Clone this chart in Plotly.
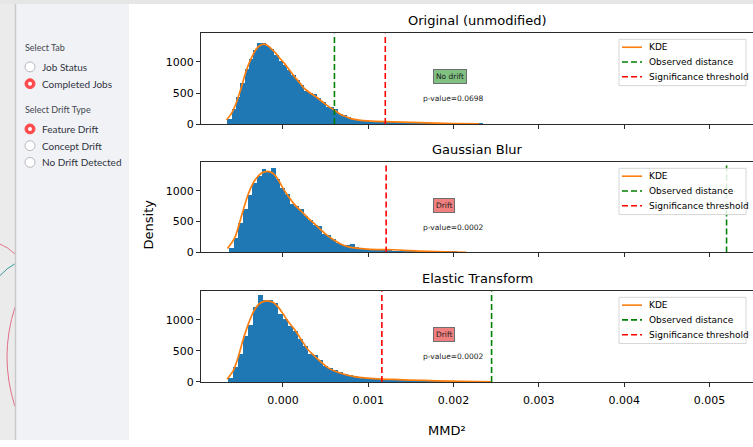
import plotly.graph_objects as go

W, H = 753, 447

# ---------------- data ----------------
titles = ["Original (unmodified)", "Gaussian Blur", "Elastic Transform"]
status = ["No drift", "Drift", "Drift"]
pvalues = ["p-value=0.0698", "p-value=0.0002", "p-value=0.0002"]
legend_labels = ["KDE", "Observed distance", "Significance threshold"]
x_ticks = [0.0, 0.001, 0.002, 0.003, 0.004, 0.005]
x_tick_labels = ["0.000", "0.001", "0.002", "0.003", "0.004", "0.005"]
y_ticks = [0, 500, 1000]
y_tick_labels = ["0", "500", "1000"]

# histogram grids (left edge of first bin, bin width)
hist_start = [-0.00065, -0.00063, -0.000642]
hist_width = [0.00005, 0.0000545, 0.0000584]

orig_counts = [80, 240, 430, 650, 880, 1040, 1180, 1295, 1295, 1250, 1200, 1110, 1010, 950,
               870, 790, 700, 620, 530, 490, 480, 410, 340, 270, 260, 230, 150, 140, 100, 75,
               60, 50, 45, 40, 35, 30, 26, 22, 20, 18, 15, 13, 12, 10, 9, 8, 7, 6, 5, 5,
               4, 4, 3, 3, 2, 2, 2, 1, 1, 1]
blur_counts = [64, 225, 465, 695, 920, 1120, 1240, 1353, 1300, 1365, 1187, 1043, 936, 786,
               749, 695, 588, 519, 444, 428, 294, 278, 214, 150, 118, 118, 123, 80,
               62, 52, 46, 40, 35, 30, 26, 22, 18, 15, 12, 10, 8, 7, 6, 5, 4, 3, 3, 2, 2, 1]
elastic_counts = [53, 230, 444, 728, 910, 1209, 1390, 1310, 1321, 1263, 1086, 1005, 899, 818,
                  685, 578, 444, 428, 353, 257, 214, 187, 150, 123, 107, 86,
                  70, 60, 52, 46, 40, 36, 32, 28, 25, 22, 19, 16, 14, 12, 10, 8, 7, 6, 5,
                  4, 3, 3, 2, 2, 1]

orig_kde_x = [-0.000662, -0.000603, -0.000545, -0.000486, -0.000428, -0.000369, -0.000311,
              -0.000253, -0.000206, -0.000155, -0.000097, -0.000039, 0.00002, 0.000078,
              0.000137, 0.000195, 0.000253, 0.000312, 0.00037, 0.000429, 0.000487, 0.000545,
              0.000604, 0.000662, 0.000721, 0.000779, 0.000838, 0.000916, 0.001033, 0.001188,
              0.0014, 0.0016, 0.0018, 0.002, 0.0023]
orig_kde_y = [64, 171, 348, 599, 867, 1065, 1214, 1279, 1284, 1241, 1161, 1065, 974, 867, 760,
              669, 572, 508, 455, 396, 332, 273, 225, 166, 128, 96, 75, 59, 48, 40, 32, 22, 14,
              8, 3]
blur_kde_x = [-0.00065, -0.000564, -0.000486, -0.000409, -0.000331, -0.000253, -0.000183,
              -0.000117, -0.000058, 0.0, 0.000059, 0.000137, 0.000214, 0.000292, 0.00037,
              0.000448, 0.000526, 0.000604, 0.000682, 0.00076, 0.000838, 0.000954, 0.00111,
              0.001305, 0.0015, 0.0017, 0.0019, 0.00215]
blur_kde_y = [64, 241, 589, 936, 1166, 1284, 1316, 1284, 1188, 1043, 920, 776, 669, 562, 465,
              364, 268, 198, 134, 96, 75, 59, 48, 44, 30, 18, 9, 3]
elastic_kde_x = [-0.000654, -0.000584, -0.000526, -0.000467, -0.000409, -0.00035, -0.000292,
                 -0.000233, -0.000183, -0.000117, -0.000058, 0.0, 0.000059, 0.000137,
                 0.000214, 0.000292, 0.00037, 0.000448, 0.000526, 0.000604, 0.000682,
                 0.00076, 0.000838, 0.000954, 0.00111, 0.001305, 0.0015, 0.0018, 0.0021,
                 0.00245]
elastic_kde_y = [43, 177, 390, 680, 920, 1118, 1241, 1295, 1306, 1284, 1209, 1102, 979, 845,
                 685, 524, 417, 321, 230, 177, 139, 107, 86, 64, 48, 40, 30, 18, 9, 3]

observed = [0.000604, 0.0052, 0.002446]
threshold = [0.0012, 0.00121, 0.00116]

counts = [orig_counts, blur_counts, elastic_counts]
kde_x = [orig_kde_x, blur_kde_x, elastic_kde_x]
kde_y = [orig_kde_y, blur_kde_y, elastic_kde_y]

# sidebar
sidebar_groups = [("Select Tab", ["Job Status", "Completed Jobs"], 1),
                  ("Select Drift Type", ["Feature Drift", "Concept Drift", "No Drift Detected"], 0)]

# ---------------- layout helpers ----------------
def px(x):
    return x / W

def py(y):
    return 1 - y / H

FONT = "DejaVu Sans"
SB_FONT = "Lato"
Y_MAX = 1460
X_RANGE = [-0.00096, 0.00551]
C_BAR, C_KDE, C_OBS, C_THR = "#1f77b4", "#ff7f0e", "#008000", "#ff0000"
DASH = "6px,3px"

# pixel geometry of the three axes (top, bottom)
panels = [(34, 126), (165, 256.5), (296, 388)]

fig = go.Figure()

for i in range(3):
    ax = "" if i == 0 else str(i + 1)
    xa, ya = "x" + ax, "y" + ax
    start, w = hist_start[i], hist_width[i]
    centers = [start + (k + 0.5) * w for k in range(len(counts[i]))]
    fig.add_trace(go.Bar(x=centers, y=counts[i], width=w, marker=dict(color=C_BAR, line=dict(width=0)),
                         showlegend=False, xaxis=xa, yaxis=ya, hoverinfo="skip"))
    fig.add_trace(go.Scatter(x=kde_x[i], y=kde_y[i], mode="lines", name="KDE", showlegend=False,
                             line=dict(color=C_KDE, width=1.7, shape="spline", smoothing=0.8),
                             xaxis=xa, yaxis=ya))
    fig.add_trace(go.Scatter(x=[observed[i], observed[i]], y=[0, Y_MAX], mode="lines",
                             name="Observed distance", showlegend=False,
                             line=dict(color=C_OBS, width=1.6, dash=DASH),
                             xaxis=xa, yaxis=ya))
    fig.add_trace(go.Scatter(x=[threshold[i], threshold[i]], y=[0, Y_MAX], mode="lines",
                             name="Significance threshold", showlegend=False,
                             line=dict(color=C_THR, width=1.6, dash=DASH),
                             xaxis=xa, yaxis=ya))

layout = dict(
    width=W, height=H,
    margin=dict(l=0, r=0, t=0, b=0),
    paper_bgcolor="white", plot_bgcolor="rgba(0,0,0,0)",
    bargap=0, barmode="overlay", showlegend=False,
    font=dict(family=FONT, size=11, color="black"),
    hovermode=False,
)

for i in range(3):
    ax = "" if i == 0 else str(i + 1)
    top, bot = panels[i]
    layout["xaxis" + ax] = dict(
        domain=[px(201), 1.0], range=X_RANGE, anchor="y" + ax,
        showline=True, linecolor="#2b2b2b", linewidth=1, mirror=True,
        ticks="outside", ticklen=4, tickwidth=1, tickcolor="#2b2b2b",
        tickvals=x_ticks, ticktext=x_tick_labels, showticklabels=(i == 2),
        ticklabelstandoff=4,
        tickfont=dict(size=11, family=FONT, color="black"),
        showgrid=False, zeroline=False, fixedrange=True,
    )
    if i > 0:
        layout["xaxis" + ax]["matches"] = "x"
    layout["yaxis" + ax] = dict(
        domain=[py(bot), py(top)], range=[0, Y_MAX], anchor="x" + ax,
        showline=True, linecolor="#2b2b2b", linewidth=1, mirror=False,
        ticks="outside", ticklen=4, tickwidth=1, tickcolor="#2b2b2b",
        tickvals=y_ticks, ticktext=y_tick_labels,
        tickfont=dict(size=11, family=FONT, color="black"),
        showgrid=False, zeroline=False, fixedrange=True,
    )

fig.update_layout(**layout)

# ---------------- shapes (page chrome) ----------------
shapes = []
annotations = []

def rect(x0, y0, x1, y1, fill, layer="below", line=None):
    return dict(type="rect", xref="paper", yref="paper", x0=px(x0), x1=px(x1),
                y0=py(y1), y1=py(y0), fillcolor=fill,
                line=line if line else dict(width=0), layer=layer)

def circle(cx, cy, r, fill="rgba(0,0,0,0)", color="#999", lw=1, layer="below"):
    return dict(type="circle", xref="paper", yref="paper", x0=px(cx - r), x1=px(cx + r),
                y0=py(cy + r), y1=py(cy - r), fillcolor=fill,
                line=dict(color=color, width=lw), layer=layer)

def curve(p0, c, p1, color):
    path = "M {:.5f},{:.5f} Q {:.5f},{:.5f} {:.5f},{:.5f}".format(
        px(p0[0]), py(p0[1]), px(c[0]), py(c[1]), px(p1[0]), py(p1[1]))
    return dict(type="path", xref="paper", yref="paper", path=path,
                line=dict(color=color, width=1), layer="below")

def hline(x0, x1, y, color, dash=None, lw=1.6):
    ln = dict(color=color, width=lw)
    if dash:
        ln["dash"] = dash
    return dict(type="line", xref="paper", yref="paper", x0=px(x0), x1=px(x1),
                y0=py(y), y1=py(y), line=ln, layer="above")

shapes.append(rect(0, 0, 15, H, "#ebebeb"))
shapes.append(curve((0, 248), (8, 251), (15, 258), "#e0708a"))
shapes.append(curve((0, 280), (7, 272), (15, 268), "#3a9a9a"))
shapes.append(curve((15, 312), (-1, 362.5), (15, 413), "#e0708a"))
shapes.append(rect(15, 0, 129, H, "#f0f2f6"))
shapes.append(rect(0, 0, W, 4, "#e6e6e6"))
shapes.append(dict(type="line", xref="paper", yref="paper", x0=px(15.5), x1=px(15.5),
                   y0=py(H), y1=py(4), line=dict(color="#c9c9c9", width=1.5), layer="below"))

yy = 48
for label, options, sel in sidebar_groups:
    annotations.append(dict(text=label, x=px(23), y=py(yy), xref="paper", yref="paper",
                            xanchor="left", yanchor="middle", showarrow=False,
                            font=dict(family=SB_FONT, size=9, color="#45474f")))
    yy += 20
    for k, opt in enumerate(options):
        if k == sel:
            shapes.append(circle(30, yy, 5, fill="#ff4b4b", color="#ff4b4b", lw=1))
            shapes.append(circle(30, yy, 2, fill="white", color="white", lw=0))
        else:
            shapes.append(circle(30, yy, 5, fill="white", color="#b8b9bd", lw=1))
        annotations.append(dict(text=opt, x=px(40), y=py(yy), xref="paper", yref="paper",
                                xanchor="left", yanchor="middle", showarrow=False,
                                font=dict(family=SB_FONT, size=10, color="#31333f")))
        yy += 17
    yy += 9

# ---------------- chart texts ----------------
status_bg = {"No drift": "#80c080", "Drift": "#f08080"}
legend_colors = [C_KDE, C_OBS, C_THR]
legend_dash = [None, DASH, DASH]
for i in range(3):
    top, bot = panels[i]
    annotations.append(dict(text=titles[i], x=px(477.5), y=py(top - 13), xref="paper", yref="paper",
                            xanchor="center", yanchor="middle", showarrow=False,
                            font=dict(family=FONT, size=13, color="black")))
    annotations.append(dict(text=status[i], x=px(433), y=py(top + 43.5), xref="paper", yref="paper",
                            xanchor="left", yanchor="middle", showarrow=False,
                            bgcolor=status_bg[status[i]], bordercolor="#6e6e6e", borderwidth=1,
                            borderpad=2, font=dict(family=FONT, size=7.5, color="#1a1a1a")))
    annotations.append(dict(text=pvalues[i], x=px(453), y=py(top + 66.5), xref="paper", yref="paper",
                            xanchor="center", yanchor="middle", showarrow=False,
                            font=dict(family=FONT, size=7.5, color="#1a1a1a")))
    # legend box (drawn manually, matplotlib style)
    lt = top + 6
    shapes.append(rect(619, lt, 746, lt + 47, "rgba(255,255,255,0.85)", layer="above",
                       line=dict(color="#d6d6d6", width=1)))
    for k in range(3):
        ey = lt + 8 + k * 15
        shapes.append(hline(622, 642, ey, legend_colors[k], legend_dash[k]))
        annotations.append(dict(text=legend_labels[k], x=px(647), y=py(ey), xref="paper", yref="paper",
                                xanchor="left", yanchor="middle", showarrow=False,
                                font=dict(family=FONT, size=9, color="black")))

annotations.append(dict(text="Density", x=px(148), y=py(228), xref="paper", yref="paper",
                        xanchor="center", yanchor="middle", showarrow=False, textangle=-90,
                        font=dict(family=FONT, size=13, color="black")))
annotations.append(dict(text="MMD²", x=px(447), y=py(437), xref="paper", yref="paper",
                        xanchor="center", yanchor="middle", showarrow=False,
                        font=dict(family=FONT, size=13, color="black")))

fig.update_layout(shapes=shapes, annotations=annotations)

fig.write_html("out.html", config={"displayModeBar": False},
               post_script="document.body.style.margin='0px';")
